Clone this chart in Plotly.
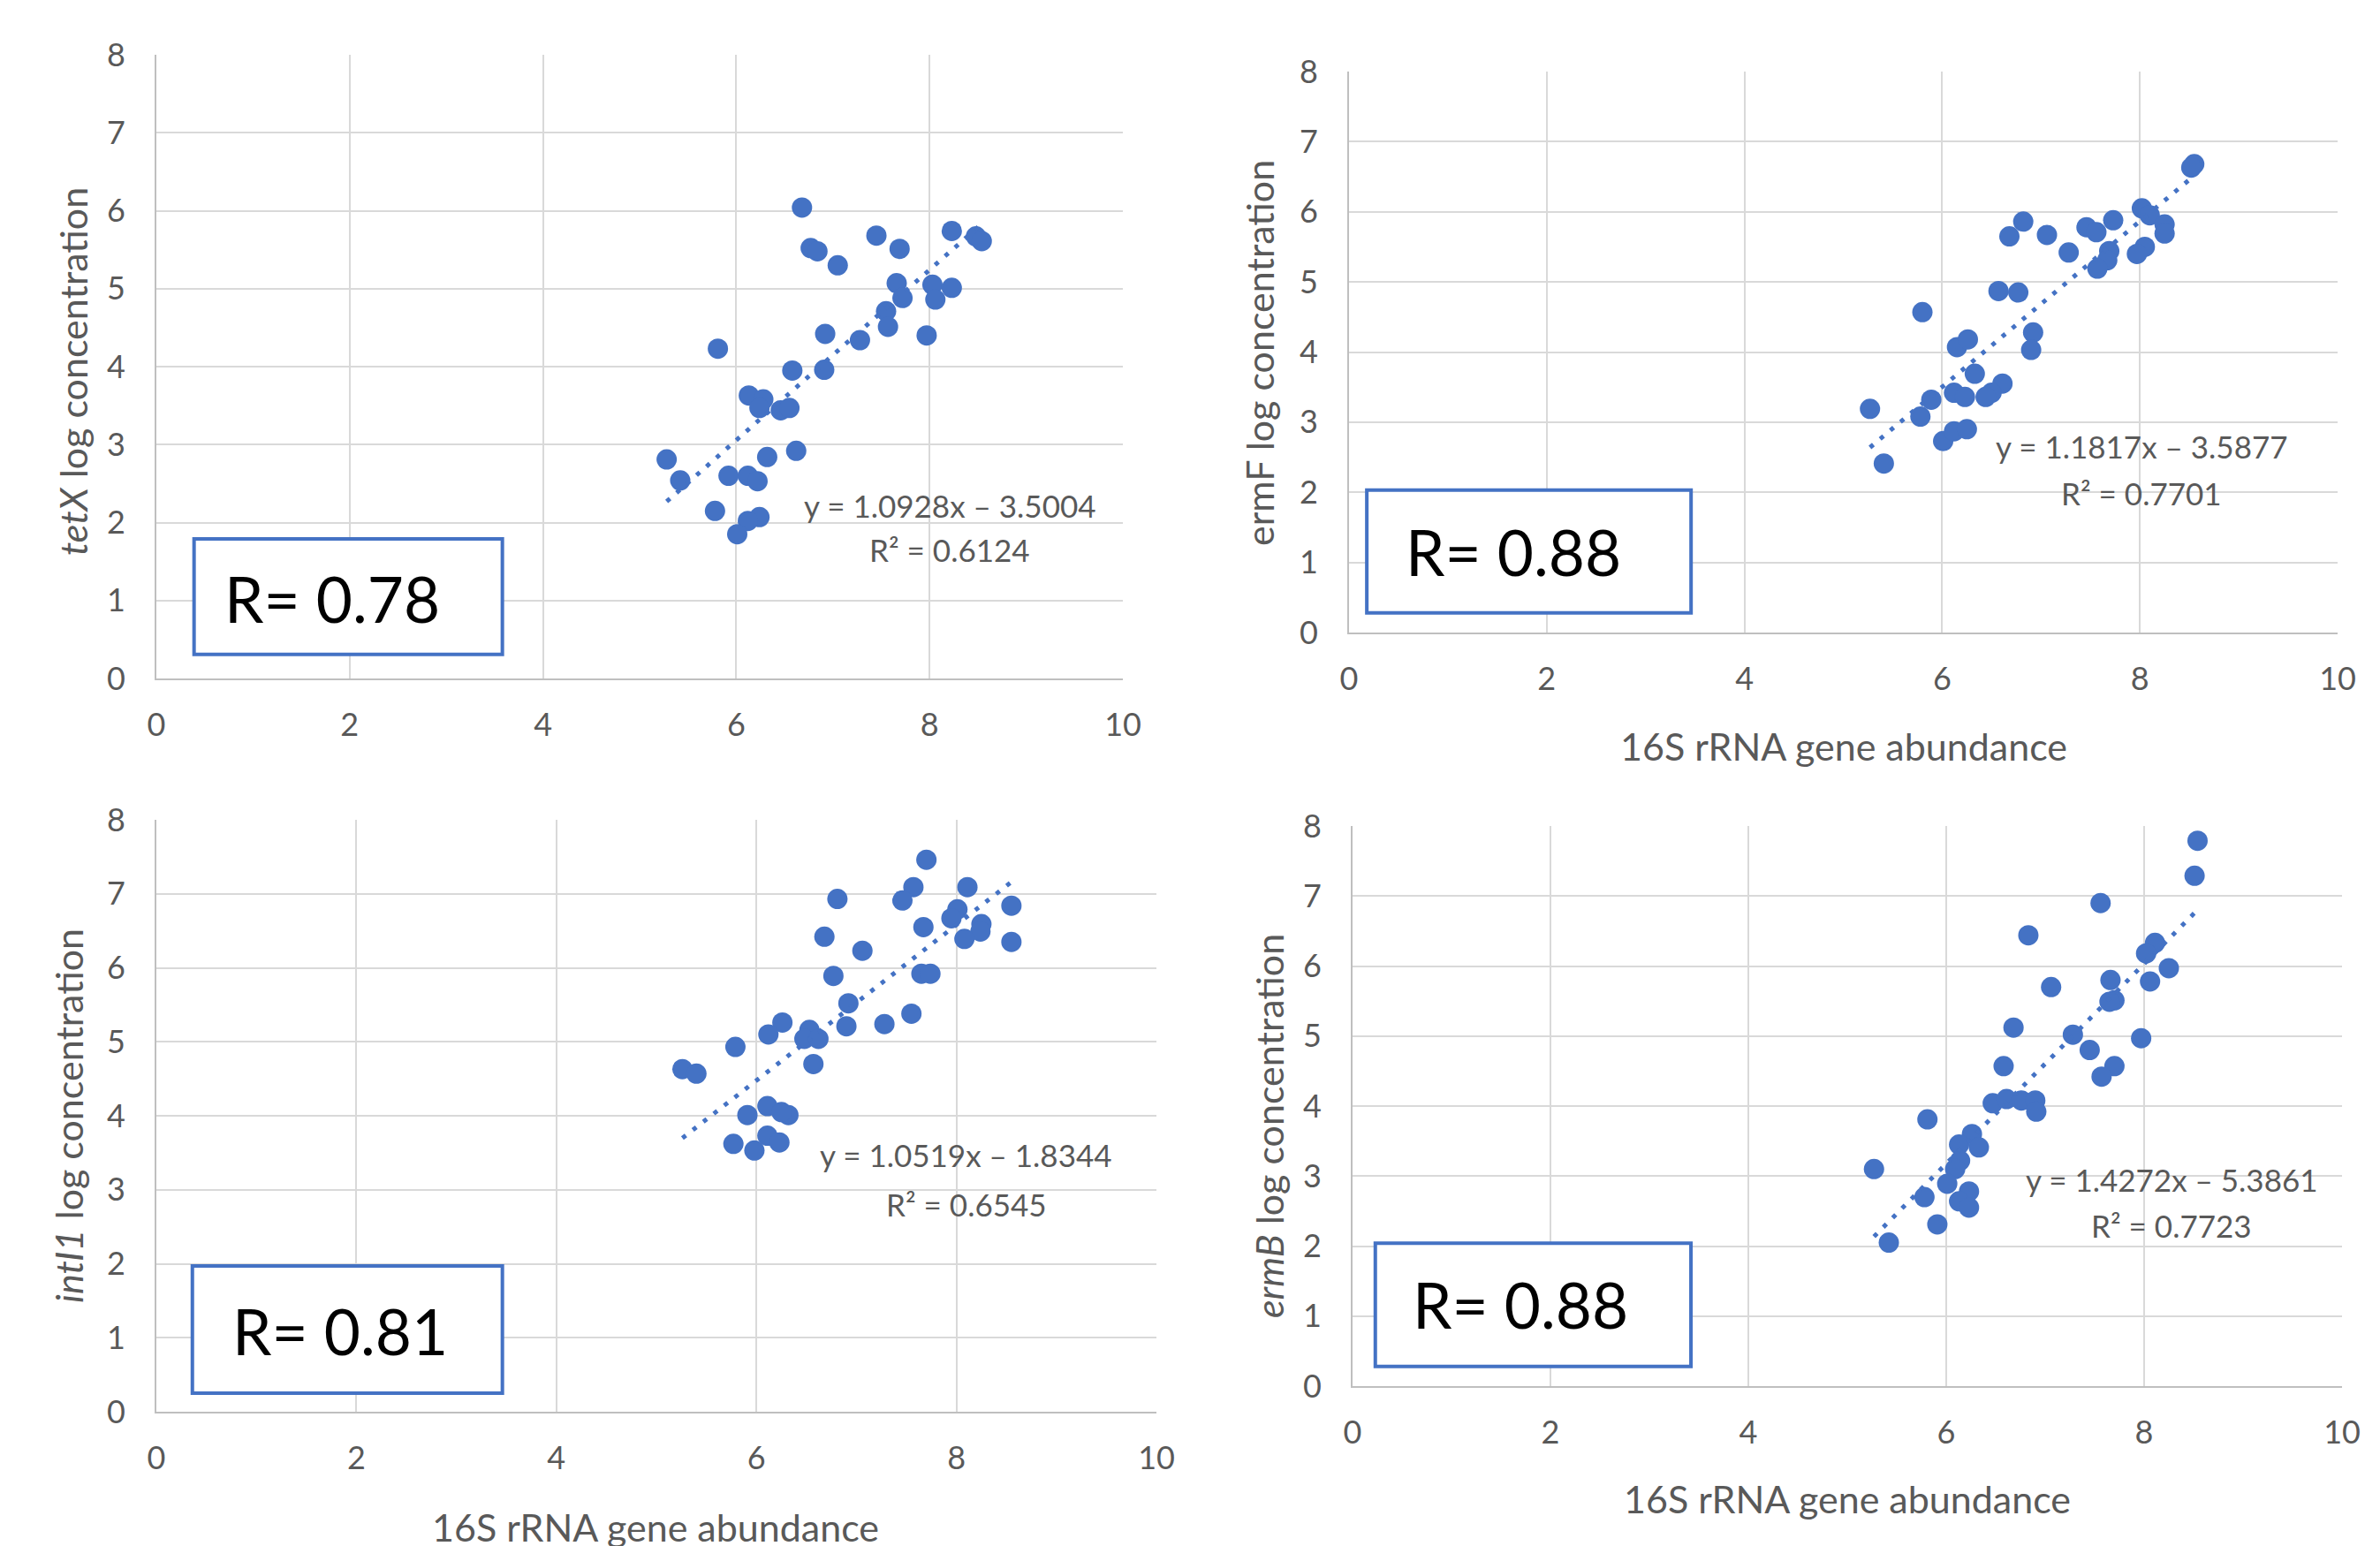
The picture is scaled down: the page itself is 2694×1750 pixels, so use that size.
import plotly.graph_objects as go

# ---------------- data ----------------
tetX_x = [6.68, 7.45, 7.69, 6.77, 6.84, 7.05, 8.23, 8.48, 8.54, 7.66,
          7.72, 8.03, 8.23, 8.06, 7.55, 7.57, 7.97, 7.28, 6.92, 5.81,
          6.58, 6.91, 6.13, 6.28, 6.24, 6.46, 6.55, 6.62, 6.32, 5.28,
          5.42, 5.92, 6.12, 6.22, 5.78, 6.24, 6.12, 6.01]
tetX_y = [6.04, 5.68, 5.51, 5.52, 5.48, 5.30, 5.74, 5.67, 5.61, 5.07,
          4.88, 5.05, 5.01, 4.86, 4.71, 4.51, 4.40, 4.34, 4.42, 4.23,
          3.95, 3.96, 3.63, 3.58, 3.47, 3.44, 3.47, 2.92, 2.84, 2.81,
          2.54, 2.60, 2.60, 2.53, 2.15, 2.07, 2.02, 1.85]

ermF_x = [8.55, 8.52, 8.02, 8.10, 8.25, 8.25, 8.05, 7.97, 7.73, 7.46,
          7.56, 7.69, 7.67, 7.57, 6.82, 6.68, 7.06, 7.28, 6.57, 6.77,
          5.80, 6.92, 6.90, 6.15, 6.26, 6.33, 6.61, 6.50, 6.44, 6.12,
          6.23, 5.89, 5.78, 5.27, 6.01, 6.12, 6.25, 5.41]
ermF_y = [6.68, 6.63, 6.05, 5.95, 5.82, 5.69, 5.50, 5.40, 5.88, 5.78,
          5.71, 5.44, 5.31, 5.19, 5.86, 5.65, 5.67, 5.42, 4.87, 4.85,
          4.57, 4.28, 4.03, 4.07, 4.18, 3.69, 3.55, 3.42, 3.36, 3.42,
          3.36, 3.32, 3.08, 3.19, 2.73, 2.87, 2.90, 2.41]

intI1_x = [7.70, 7.57, 7.46, 8.11, 6.81, 8.01, 7.95, 8.25, 8.24, 8.08,
           8.55, 8.55, 7.67, 6.68, 7.06, 6.77, 7.65, 7.74, 6.92, 6.90,
           7.55, 7.28, 6.26, 6.12, 6.53, 6.48, 6.62, 5.79, 6.57, 5.26,
           5.40, 5.91, 6.11, 6.32, 6.25, 5.77, 5.98, 6.11, 6.23]
intI1_y = [7.46, 7.09, 6.91, 7.09, 6.93, 6.79, 6.67, 6.59, 6.49, 6.39,
           6.84, 6.35, 6.55, 6.42, 6.23, 5.89, 5.92, 5.92, 5.52, 5.21,
           5.38, 5.24, 5.26, 5.10, 5.16, 5.04, 5.04, 4.93, 4.70, 4.63,
           4.57, 4.01, 4.13, 4.01, 4.05, 3.62, 3.53, 3.73, 3.64]

ermB_x = [8.54, 8.51, 7.56, 6.83, 8.11, 8.02, 8.25, 8.06, 7.66, 7.70,
          7.65, 7.06, 6.68, 7.28, 7.45, 7.97, 7.70, 7.57, 6.58, 6.47,
          6.61, 6.76, 6.90, 6.91, 5.81, 6.26, 6.33, 6.13, 6.14, 6.09,
          5.27, 6.01, 6.23, 6.13, 6.23, 5.78, 5.91, 5.42]
ermB_y = [7.79, 7.29, 6.90, 6.44, 6.33, 6.18, 5.97, 5.78, 5.80, 5.51,
          5.49, 5.70, 5.12, 5.02, 4.80, 4.97, 4.57, 4.42, 4.57, 4.04,
          4.10, 4.08, 4.08, 3.92, 3.81, 3.60, 3.41, 3.45, 3.22, 3.10,
          3.10, 2.89, 2.78, 2.64, 2.55, 2.70, 2.31, 2.05]

slopes = [1.0928, 1.1817, 1.0519, 1.4272]
intercepts = [-3.5004, -3.5877, -1.8344, -5.3861]
r2_values = ["0.6124", "0.7701", "0.6545", "0.7723"]
r_labels = ["R= 0.78", "R= 0.88", "R= 0.81", "R= 0.88"]
y_titles = ["<i>tetX</i> log concentration", "ermF log concentration",
            "<i>intI1</i> log concentration", "<i>ermB</i> log concentration"]
x_title = "16S rRNA gene abundance"
x_ticks = [0, 2, 4, 6, 8, 10]
y_ticks = [0, 1, 2, 3, 4, 5, 6, 7, 8]

xs = [tetX_x, ermF_x, intI1_x, ermB_x]
ys = [tetX_y, ermF_y, intI1_y, ermB_y]

# ---------------- layout / style ----------------
W, H = 2694, 1750
OFF = 8  # the page body adds an 8px margin; compensate
BLUE = "#4472C4"
GREY_TXT = "#595959"
GRID = "#d9d9d9"
FONT = "Lato, 'Open Sans', sans-serif"

# plot areas in screen pixels: (left, right, top, bottom)
boxes_px = [(177, 1271, 62, 768), (1527, 2646, 81, 716),
            (177, 1309, 928, 1598), (1531, 2651, 935, 1569)]
# R-box extents in data units (x0, x1, y0, y1) and text centre
rbox = [(0.39, 3.58, 0.31, 1.79), (0.18, 3.46, 0.28, 2.03),
        (0.36, 3.46, 0.25, 1.97), (0.23, 3.42, 0.28, 2.04)]
rtext = [(1.82, 1.03), (1.66, 1.15), (1.84, 1.09), (1.70, 1.17)]
eq_pos = [(8.21, 2.22, 1.65), (8.02, 2.66, 1.99), (8.10, 3.47, 2.81), (8.28, 2.95, 2.30)]
ytitle_px = [(82, 421), (1426, 400), (77, 1263), (1436, 1275)]
xtitle_px = [None, (2087, 844), (742, 1728), (2091, 1696)]


def px_x(v):
    return (v - OFF) / W


def px_y(v):
    return 1 - (v - OFF) / H


fig = go.Figure()
annotations = []
shapes = []

for i in range(4):
    n = i + 1
    xa = "x" if n == 1 else f"x{n}"
    ya = "y" if n == 1 else f"y{n}"
    l, r, t, b = boxes_px[i]

    fig.add_trace(go.Scatter(
        x=xs[i], y=ys[i], mode="markers", xaxis=xa, yaxis=ya,
        marker=dict(color=BLUE, size=23, line=dict(width=0)),
        showlegend=False, hoverinfo="skip"))

    x0, x1 = min(xs[i]), max(xs[i])
    fig.add_trace(go.Scatter(
        x=[x0, x1], y=[slopes[i] * x0 + intercepts[i], slopes[i] * x1 + intercepts[i]],
        mode="lines", xaxis=xa, yaxis=ya,
        line=dict(color=BLUE, width=5, dash="5px,10px"),
        showlegend=False, hoverinfo="skip"))

    axis_x = dict(domain=[px_x(l), px_x(r)], range=[0, 10], tickvals=x_ticks,
                  showgrid=True, gridcolor=GRID, gridwidth=2, zeroline=False,
                  showline=True, linecolor="#bfbfbf", linewidth=2,
                  ticks="outside", ticklen=20, tickcolor="rgba(0,0,0,0)",
                  tickfont=dict(size=36, color=GREY_TXT, family=FONT),
                  anchor=ya, fixedrange=True, automargin=False)
    axis_y = dict(domain=[px_y(b), px_y(t)], range=[0, 8], tickvals=y_ticks,
                  showgrid=True, gridcolor=GRID, gridwidth=2, zeroline=False,
                  showline=True, linecolor="#bfbfbf", linewidth=2,
                  ticks="outside", ticklen=26, tickcolor="rgba(0,0,0,0)",
                  tickfont=dict(size=36, color=GREY_TXT, family=FONT),
                  anchor=xa, fixedrange=True, automargin=False)
    fig.update_layout(**{("xaxis" if n == 1 else f"xaxis{n}"): axis_x,
                         ("yaxis" if n == 1 else f"yaxis{n}"): axis_y})

    # R box
    bx0, bx1, by0, by1 = rbox[i]
    shapes.append(dict(type="rect", xref=xa, yref=ya, x0=bx0, x1=bx1, y0=by0, y1=by1,
                       line=dict(color=BLUE, width=4), fillcolor="white", layer="above"))
    annotations.append(dict(x=rtext[i][0], y=rtext[i][1], xref=xa, yref=ya,
                            text=r_labels[i], showarrow=False,
                            font=dict(size=71, color="black", family=FONT),
                            xanchor="center", yanchor="middle"))
    # equation
    ex, ey, ry = eq_pos[i]
    sign = "–" if intercepts[i] < 0 else "+"
    annotations.append(dict(x=ex, y=ey, xref=xa, yref=ya,
                            text=f"y = {slopes[i]:.4f}x {sign} {abs(intercepts[i]):.4f}",
                            showarrow=False, font=dict(size=35, color=GREY_TXT, family=FONT),
                            xanchor="center", yanchor="middle"))
    annotations.append(dict(x=ex, y=ry, xref=xa, yref=ya,
                            text=f"R² = {r2_values[i]}",
                            showarrow=False, font=dict(size=35, color=GREY_TXT, family=FONT),
                            xanchor="center", yanchor="middle"))
    # axis titles
    tx, ty = ytitle_px[i]
    annotations.append(dict(x=px_x(tx), y=px_y(ty), xref="paper", yref="paper",
                            text=y_titles[i], textangle=-90, showarrow=False,
                            font=dict(size=43, color=GREY_TXT, family=FONT),
                            xanchor="center", yanchor="middle"))
    if xtitle_px[i] is not None:
        tx, ty = xtitle_px[i]
        annotations.append(dict(x=px_x(tx), y=px_y(ty), xref="paper", yref="paper",
                                text=x_title, showarrow=False,
                                font=dict(size=43, color=GREY_TXT, family=FONT),
                                xanchor="center", yanchor="middle"))

fig.update_layout(width=W, height=H, margin=dict(l=0, r=0, t=0, b=0, pad=0),
                  paper_bgcolor="white", plot_bgcolor="white",
                  annotations=annotations, shapes=shapes,
                  font=dict(family=FONT, color=GREY_TXT))

fig.write_html("out.html", config={"displayModeBar": False})
